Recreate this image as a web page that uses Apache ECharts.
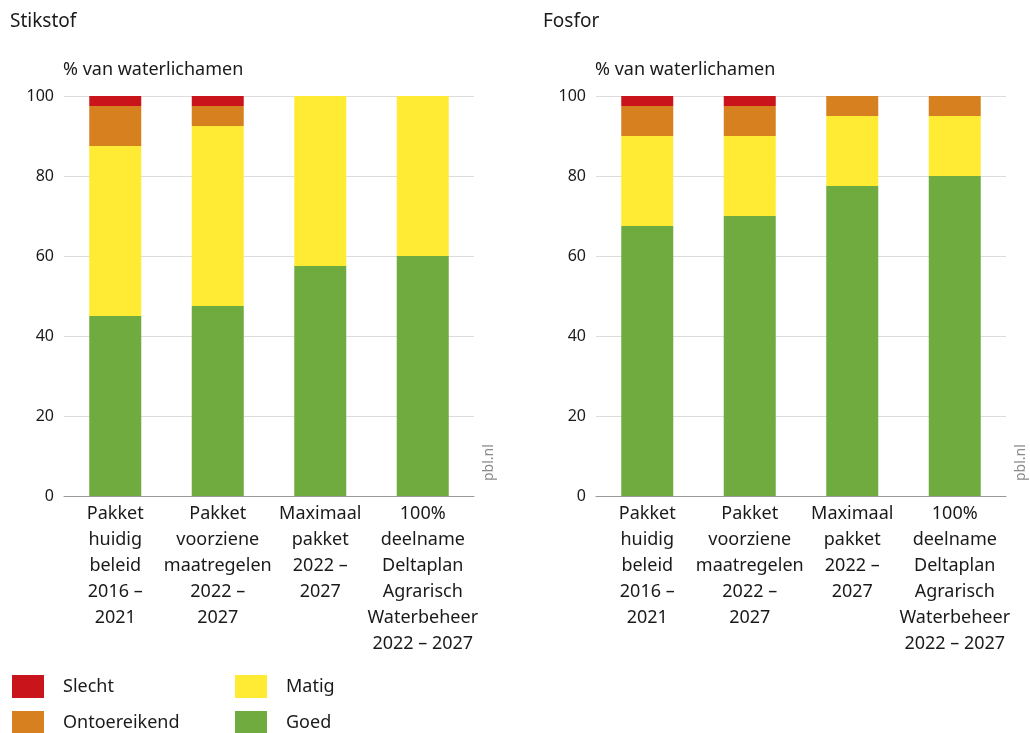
<!DOCTYPE html>
<html>
<head>
<meta charset="utf-8">
<script src="https://cdn.jsdelivr.net/npm/echarts@6/dist/echarts.min.js"></script>
<style>
html,body{margin:0;padding:0;background:#fff;}
#chart{width:1030px;height:733px;}
</style>
</head>
<body>
<div id="chart"></div>
<script>
const categories = [
  "Pakket\nhuidig\nbeleid\n2016 –\n2021",
  "Pakket\nvoorziene\nmaatregelen\n2022 –\n2027",
  "Maximaal\npakket\n2022 –\n2027",
  "100%\ndeelname\nDeltaplan\nAgrarisch\nWaterbeheer\n2022 – 2027"
];
const yTicks = [0, 20, 40, 60, 80, 100];
const seriesNames = ["Goed", "Matig", "Ontoereikend", "Slecht"];
const colors = { Goed: "#6fab3f", Matig: "#ffeb33", Ontoereikend: "#d7801f", Slecht: "#c8141a" };

// Stikstof
const stikstofGoed = [45, 47.5, 57.5, 60];
const stikstofMatig = [42.5, 45, 42.5, 40];
const stikstofOntoereikend = [10, 5, 0, 0];
const stikstofSlecht = [2.5, 2.5, 0, 0];

// Fosfor
const fosforGoed = [67.5, 70, 77.5, 80];
const fosforMatig = [22.5, 20, 17.5, 15];
const fosforOntoereikend = [7.5, 7.5, 5, 5];
const fosforSlecht = [2.5, 2.5, 0, 0];

const font = "Noto Sans";
const textColor = "#1a1a1a";

function xAxis(i) {
  return {
    type: "category", gridIndex: i, data: categories,
    axisLine: { lineStyle: { color: "#999", width: 1 } },
    axisTick: { show: false },
    axisLabel: { interval: 0, fontFamily: font, fontSize: 18, color: textColor, lineHeight: 26, margin: 5 }
  };
}
function yAxis(i) {
  return {
    type: "value", gridIndex: i, min: 0, max: 100, interval: 20,
    axisLine: { show: false }, axisTick: { show: false },
    splitLine: { lineStyle: { color: "#dcdcdc", width: 1 } },
    axisLabel: { fontFamily: font, fontSize: 16, color: textColor, margin: 10,
      formatter: v => yTicks.includes(v) ? String(v) : "" }
  };
}
function mk(name, data, idx) {
  return {
    name: name, type: "bar", stack: "s" + idx, xAxisIndex: idx, yAxisIndex: idx,
    data: data, barWidth: 52, itemStyle: { color: colors[name] },
    emphasis: { disabled: true }
  };
}
function lg(name, left, top) {
  return { data: [name], left: left, top: top, itemWidth: 32, itemHeight: 23, icon: "rect",
    textStyle: { fontFamily: font, fontSize: 18, color: textColor, padding: [0, 0, 0, 14] }, selectedMode: false };
}

const chart = echarts.init(document.getElementById("chart"), null, { renderer: "canvas" });
chart.setOption({
  animation: false,
  textStyle: { fontFamily: font },
  title: [
    { text: "Stikstof", left: 5, top: 7, textStyle: { fontFamily: font, fontSize: 19, fontWeight: "normal", color: textColor } },
    { text: "Fosfor", left: 538, top: 7, textStyle: { fontFamily: font, fontSize: 19, fontWeight: "normal", color: textColor } },
    { text: "% van waterlichamen", left: 58, top: 56, textStyle: { fontFamily: font, fontSize: 18, fontWeight: "normal", color: textColor } },
    { text: "% van waterlichamen", left: 590, top: 56, textStyle: { fontFamily: font, fontSize: 18, fontWeight: "normal", color: textColor } }
  ],
  grid: [
    { left: 64, width: 410, top: 96, height: 400 },
    { left: 596, width: 410, top: 96, height: 400 }
  ],
  xAxis: [xAxis(0), xAxis(1)],
  yAxis: [yAxis(0), yAxis(1)],
  legend: [
    lg("Slecht", 7, 670), lg("Ontoereikend", 7, 706),
    lg("Matig", 230, 670), lg("Goed", 230, 706)
  ],
  graphic: [
    { type: "text", x: 482, y: 481, rotation: Math.PI / 2, style: { text: "pbl.nl", font: "14px 'Noto Sans'", fill: "#8a8a8a", textAlign: "left", textVerticalAlign: "top" } },
    { type: "text", x: 1014, y: 481, rotation: Math.PI / 2, style: { text: "pbl.nl", font: "14px 'Noto Sans'", fill: "#8a8a8a", textAlign: "left", textVerticalAlign: "top" } }
  ],
  series: [
    mk("Goed", stikstofGoed, 0), mk("Matig", stikstofMatig, 0), mk("Ontoereikend", stikstofOntoereikend, 0), mk("Slecht", stikstofSlecht, 0),
    mk("Goed", fosforGoed, 1), mk("Matig", fosforMatig, 1), mk("Ontoereikend", fosforOntoereikend, 1), mk("Slecht", fosforSlecht, 1)
  ]
});
</script>
</body>
</html>
